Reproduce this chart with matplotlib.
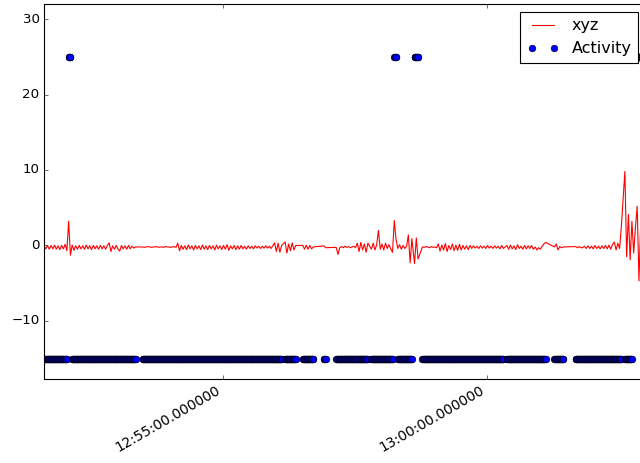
import datetime as dt
import matplotlib
matplotlib.use('Agg')
import matplotlib.pyplot as plt
import matplotlib.dates as mdates

plt.style.use('classic')

# time of the first sample (all offsets below are in seconds from it)
START = dt.datetime(2016, 5, 10, 12, 51, 37)
XYZ_STEP = 2.0    # xyz sample spacing
ACT_STEP = 0.5    # activity log spacing

# xyz: recorded segments, offset of the first sample in each segment
seg_starts = [0, 112, 274, 294, 318, 332, 372, 421, 430, 526, 580, 604, 660, 670]

# xyz values per segment
xyz_segments = [
    [0.0, -0.45, -0.05, -0.5, 0.0, -0.45, 0.05, -0.5, -0.05, -0.55,
     0.0, -0.45, 0.15, -0.7, 3.2, -1.3, 0.05, -0.65, -0.05, -0.5,
     0.0, -0.45, -0.05, -0.5, 0.05, -0.45, -0.05, -0.55, 0.0, -0.45,
     -0.05, -0.5, 0.0, -0.45, -0.05, -0.5, 0.0, 0.35, -0.8, -0.05,
     -0.5, 0.0, -0.45, -0.75, 0.0, -0.45, -0.05, -0.5, 0.0, -0.45,
     -0.1, -0.35, -0.2],
    [-0.2, -0.25, -0.2, -0.15, -0.2, -0.25, -0.2, -0.2, -0.15, -0.25,
     -0.2, -0.2, -0.25, -0.15, -0.2, -0.2, -0.25, -0.2, -0.15, -0.25,
     0.3, -0.7, 0.0, -0.5, -0.05, -0.55, 0.05, -0.45, -0.05, -0.6,
     0.0, -0.45, -0.05, -0.55, 0.05, -0.5, -0.05, -0.55, 0.0, -0.45,
     -0.05, -0.6, 0.05, -0.45, -0.05, -0.55, 0.0, -0.5, 0.1, -0.65,
     -0.05, -0.45, 0.0, -0.55, -0.05, -0.5, 0.0, -0.45, -0.1, -0.5,
     -0.05, -0.4, -0.1, -0.45, -0.05, -0.35, -0.1, -0.4, -0.1, -0.35,
     -0.05, -0.35, -0.1, -0.4, -0.05, 0.35, -0.8, 0.3, -0.9, 0.0],
    [0.45, -1.0, 0.2, -0.7, 0.35, -0.6, 0.0],
    [0.0, -0.5, 0.05, -0.5, 0.0, -0.45, -0.2],
    [-0.05, -0.3],
    [-0.25, -1.2, -0.3, -0.15, -0.3, -0.1, -0.25, -0.15, -0.3, -0.2,
     -0.1, -0.3, 0.3, -0.8, 0.4, -0.6, 0.2, -0.9, 0.3],
    [-0.5, 0.3, -0.6, 0.1, 2.0, -0.5, 0.2, -0.6, 0.3, -0.4,
     0.1, -0.5, -0.9, 3.3, 0.8, -0.4, 0.1, -0.5, 0.0, -0.4,
     -0.1, 1.4, -2.3, 0.9],
    [-2.4, 1.0, -1.8],
    [-0.2, -0.25, -0.15, -0.2, -0.3, -0.15, -0.25, -0.2, -0.3,
     0.2, -0.75, 0.05, -0.6, 0.25, -0.8, 0.0, -0.55, 0.2, -0.7,
     0.05, -0.65, 0.15, -0.6, 0.0, -0.5, -0.05, -0.55, 0.0,
     -0.4, -0.05, -0.35, -0.1, -0.4, -0.05, -0.35, -0.1, -0.4, 0.0,
     -0.35, -0.1, -0.4, -0.05, -0.35, -0.1, -0.45, 0.0, -0.4],
    [0.0, -0.5, 0.05, -0.45, -0.05, -0.55, 0.1, -0.4, -0.1, -0.5,
     0.0, -0.45, -0.05, -0.4, 0.0, -0.5,
     -0.2, -0.6, -0.3, -0.5, -0.1, 0.2, 0.4],
    [-0.2, 0.2, -0.6, -0.15, -0.3, -0.2],
    [-0.15, -0.3, -0.15, -0.3, -0.3, -0.1, -0.4, -0.05, -0.4, -0.1,
     -0.45, 0.0, -0.4, -0.1, -0.45, -0.05, -0.4, 0.0, -0.45, 0.05,
     -0.5, 0.15, 0.45, -0.6, 0.3, -0.4, 2.5],
    [9.8, -1.5, 4.1, -1.9, 3.2],
    [-1.0, 2.4, 5.2, -4.7, 3.0, -2.0, 1.5, -0.5],
]

# activity log as runs: (first offset, last offset, level)
act_run_start = [0, 28, 32, 112, 274, 294, 318, 332, 372, 398, 402, 421,
                 430, 526, 580, 604, 660, 670]
act_run_end = [26, 30, 104, 270, 286, 306, 320, 368, 396, 400, 418, 425,
               522, 570, 590, 656, 668, 684]
act_run_level = [-15, 25, -15, -15, -15, -15, -15, -15, -15, 25, -15, 25,
                 -15, -15, -15, -15, -15, 25]

xyz_t, xyz = [], []
for start, xs in zip(seg_starts, xyz_segments):
    for i, v in enumerate(xs):
        xyz_t.append(START + dt.timedelta(seconds=start + XYZ_STEP * i))
        xyz.append(v)

act_t, activity = [], []
for a, b, lev in zip(act_run_start, act_run_end, act_run_level):
    n = int(round((b - a) / ACT_STEP)) + 1
    for i in range(n):
        act_t.append(START + dt.timedelta(seconds=a + ACT_STEP * i))
        activity.append(lev)

fig = plt.figure(figsize=(8, 5.7875), dpi=80)
ax = fig.add_axes([44 / 640, 84 / 463, 602 / 640, 375 / 463])

ax.plot(xyz_t, xyz, 'r-', label='xyz')
ax.plot(act_t, activity, 'bo', markeredgecolor='k', markeredgewidth=0.5,
        label='Activity')

ax.set_xlim(xyz_t[0], xyz_t[-1])
ax.set_ylim(-17.7, 32)
ax.set_yticks([-10, 0, 10, 20, 30])
ax.xaxis.set_major_locator(mdates.MinuteLocator(byminute=range(0, 60, 5)))
ax.xaxis.set_major_formatter(mdates.DateFormatter('%H:%M:%S.%f'))
for lbl in ax.get_xticklabels():
    lbl.set_rotation(30)
    lbl.set_ha('right')
    lbl.set_fontsize(12.5)

ax.legend(loc='upper right')

fig.savefig('out.png', dpi=80)
